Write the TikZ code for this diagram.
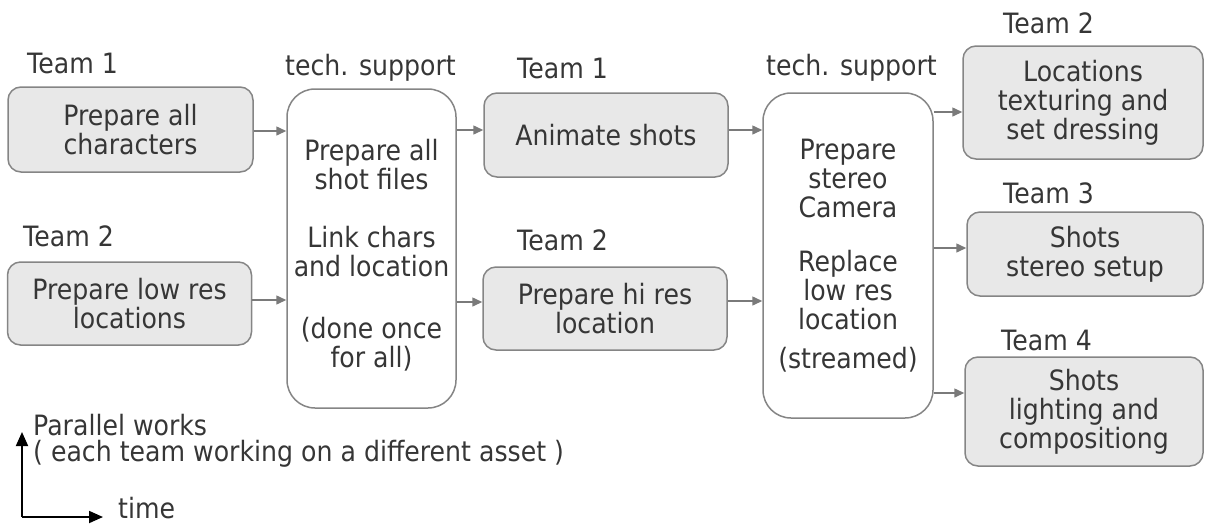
\documentclass[tikz,border=0pt]{standalone}
\usepackage{fontspec}
\newfontfamily\dv[FakeStretch=0.9]{DejaVu Sans}
\usetikzlibrary{arrows.meta}
\definecolor{txt}{HTML}{363636}
\definecolor{boxfill}{HTML}{E8E8E8}
\definecolor{boxline}{HTML}{858585}
\definecolor{arrgray}{HTML}{7A7A7A}
\tikzset{
  every node/.style={font=\dv\fontsize{28pt}{29pt}\selectfont, text=txt, inner sep=0pt},
  gbox/.style={draw=boxline, fill=boxfill, line width=1.5pt, rounded corners=13pt, align=center},
  tbox/.style={draw=boxline, fill=white, line width=1.5pt, rounded corners=28pt},
  lbl/.style={anchor=base west},
  arr/.style={draw=arrgray, line width=1.5pt, -{Triangle[length=10pt,width=9pt]}},
  axis/.style={draw=black, line width=1.8pt, -{Triangle[length=14pt,width=12pt]}}
}
\begin{document}
\begin{tikzpicture}[x=1pt,y=-1pt]
\useasboundingbox (0,0) rectangle (1205,523);
% labels
\node[lbl] (l1) at (27,73) {Team 1};
\node[lbl] (l2) at (285,75) {tech. support};
\node[lbl] (l3) at (517,78) {Team 1};
\node[lbl] (l4) at (766,75) {tech. support};
\node[lbl] (l5) at (1003,33) {Team 2};
\node[lbl] (l6) at (23,246) {Team 2};
\node[lbl] (l7) at (517,250) {Team 2};
\node[lbl] (l8) at (1003,203) {Team 3};
\node[lbl] (l9) at (1001,350) {Team 4};
% boxes
\node[gbox, minimum width=245pt, minimum height=85pt] (A) at (130.5,129.5) {Prepare all\\characters};
\node[gbox, minimum width=244pt, minimum height=83pt] (B) at (129.5,303.5) {Prepare low res\\locations};
\node[tbox, minimum width=169pt, minimum height=319pt] (T1) at (371.5,248.5) {};
\node[align=center] (T1t) at (371.5,255) {Prepare all\\shot files\\[29pt]Link chars\\and location\\[33pt](done once\\for all)};
\node[gbox, minimum width=244pt, minimum height=84pt] (C) at (606,135) {Animate shots};
\node[gbox, minimum width=244pt, minimum height=83pt] (D) at (605,308.5) {Prepare hi res\\location};
\node[tbox, minimum width=170pt, minimum height=325pt] (T2) at (848,255.5) {};
\node[align=center] (T2t) at (848,256) {Prepare\\stereo\\Camera\\[25pt]Replace\\low res\\location\\[10pt](streamed)};
\node[gbox, minimum width=240pt, minimum height=113pt] (E) at (1083,102.5) {Locations\\texturing and\\set dressing};
\node[gbox, minimum width=236pt, minimum height=84pt] (F) at (1085,254) {Shots\\stereo setup};
\node[gbox, minimum width=238pt, minimum height=109pt] (G) at (1084,411.5) {Shots\\lighting and\\compositiong};
% arrows
\draw[arr] (A.east |- 0,131) -- (T1.west |- 0,131);
\draw[arr] (B.east |- 0,300) -- (T1.west |- 0,300);
\draw[arr] (T1.east |- 0,130) -- (C.west |- 0,130);
\draw[arr] (T1.east |- 0,302) -- (D.west |- 0,302);
\draw[arr] (C.east |- 0,130) -- (T2.west |- 0,130);
\draw[arr] (D.east |- 0,301) -- (T2.west |- 0,301);
\draw[arr] (T2.east |- 0,112) -- (E.west |- 0,112);
\draw[arr] (T2.east |- 0,248) -- (F.west |- 0,248);
\draw[arr] (T2.east |- 0,393) -- (G.west |- 0,393);
% legend
\coordinate (O) at (22,517);
\coordinate (Up) at (22,432);
\coordinate (Rt) at (103,517);
\draw[axis] (O) -- (Up);
\draw[axis] (O) -- (Rt);
\node[lbl] (p1) at (33,435) {Parallel works};
\node[lbl] (p2) at (33,461) {( each team working on a different asset )};
\node[lbl] (p3) at (118,518) {time};
\end{tikzpicture}
\end{document}
